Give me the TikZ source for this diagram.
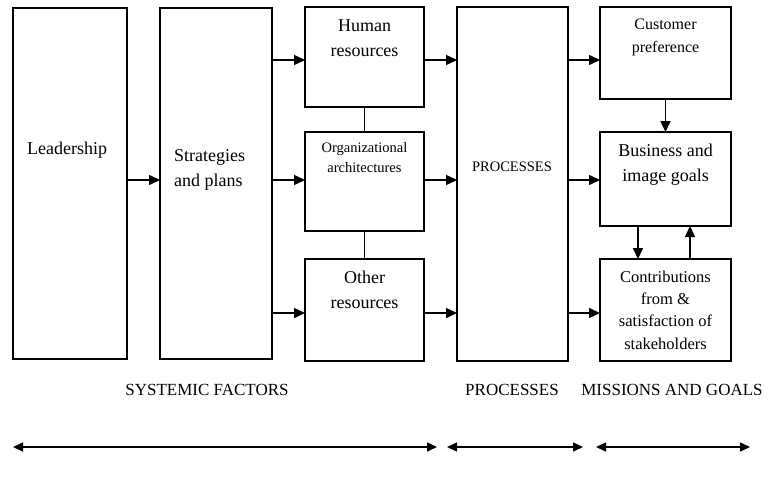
\documentclass[tikz,border=0pt]{standalone}
\usepackage{fontspec}
\setmainfont{Liberation Serif}
\usetikzlibrary{arrows.meta}
\begin{document}
\begin{tikzpicture}[x=1pt,y=-1pt,
  box/.style={draw,line width=1.6pt,inner sep=0pt,outer sep=0pt},
  txt/.style={inner sep=0pt,align=center,font=\fontsize{18}{25}\selectfont},
  smalltxt/.style={inner sep=0pt,align=center,font=\fontsize{14.5}{20}\selectfont},
  arr/.style={line width=1.5pt,-{Triangle[length=11pt,width=10pt]}},
  dbl/.style={line width=1.5pt,{Triangle[length=10pt,width=9pt]}-{Triangle[length=10pt,width=9pt]}},
  link/.style={line width=1.5pt}]
\useasboundingbox (0,0) rectangle (774,483);
% boxes
\node[box,minimum width=114pt,minimum height=351pt] (lead) at (70,183.5) {};
\node[box,minimum width=112pt,minimum height=351pt] (strat) at (216,183.5) {};
\node[box,minimum width=119pt,minimum height=100pt] (hum) at (364.5,57) {};
\node[box,minimum width=119pt,minimum height=99pt] (org) at (364.5,181.5) {};
\node[box,minimum width=119pt,minimum height=102pt] (oth) at (364.5,310) {};
\node[box,minimum width=111pt,minimum height=354pt] (proc) at (512.5,184) {};
\node[box,minimum width=131pt,minimum height=92pt] (cust) at (665.5,53) {};
\node[box,minimum width=131pt,minimum height=94pt] (bus) at (665.5,179) {};
\node[box,minimum width=131pt,minimum height=102pt] (con) at (665.5,310) {};
% texts
\node[txt,anchor=west] (leadt) at (27,150) {Leadership};
\node[txt,anchor=west,align=left] (stratt) at (174,170) {Strategies\\and plans};
\node[txt] (humt) at (364.5,38) {Human\\resources};
\node[smalltxt] (orgt) at (364.5,158) {Organizational\\architectures};
\node[txt] (otht) at (364.5,290) {Other\\resources};
\node[smalltxt] (proct) at (512,167) {PROCESSES};
\node[txt,font=\fontsize{16}{23}\selectfont] (custt) at (665.5,37) {Customer\\preference};
\node[txt] (bust) at (665.5,165) {Business and\\image goals};
\node[txt,font=\fontsize{16.5}{22.3}\selectfont] (cont) at (665.5,310) {Contributions\\from \&\\satisfaction of\\stakeholders};
\node[txt,font=\fontsize{17}{20}\selectfont] (l1) at (207,390) {SYSTEMIC FACTORS};
\node[txt,font=\fontsize{17}{20}\selectfont] (l2) at (512,390) {PROCESSES};
\node[txt,font=\fontsize{17}{20}\selectfont] (l3) at (672,390) {MISSIONS AND GOALS};
% row coordinates
\coordinate (r1) at (0,60);
\coordinate (r2) at (0,180);
\coordinate (r3) at (0,313);
\coordinate (cdown) at (638,0);
\coordinate (cup) at (690,0);
% connectors
\draw[arr] (lead.east |- r2) -- (strat.west |- r2);
\draw[arr] (strat.east |- r1) -- (hum.west |- r1);
\draw[arr] (strat.east |- r2) -- (org.west |- r2);
\draw[arr] (strat.east |- r3) -- (oth.west |- r3);
\draw[arr] (hum.east |- r1) -- (proc.west |- r1);
\draw[arr] (org.east |- r2) -- (proc.west |- r2);
\draw[arr] (oth.east |- r3) -- (proc.west |- r3);
\draw[arr] (proc.east |- r1) -- (cust.west |- r1);
\draw[arr] (proc.east |- r2) -- (bus.west |- r2);
\draw[arr] (proc.east |- r3) -- (con.west |- r3);
\draw[link] (hum.south) -- (org.north);
\draw[link] (org.south) -- (oth.north);
\draw[arr] (cust.south) -- (bus.north);
\draw[arr] (bus.south -| cdown) -- (con.north -| cdown);
\draw[arr] (con.north -| cup) -- (bus.south -| cup);
% bottom spans
\coordinate (a1) at (13,447);
\coordinate (a2) at (437,447);
\coordinate (b1) at (447,447);
\coordinate (b2) at (583,447);
\coordinate (c1) at (596,447);
\coordinate (c2) at (750,447);
\draw[dbl] (a1) -- (a2);
\draw[dbl] (b1) -- (b2);
\draw[dbl] (c1) -- (c2);
\end{tikzpicture}
\end{document}
